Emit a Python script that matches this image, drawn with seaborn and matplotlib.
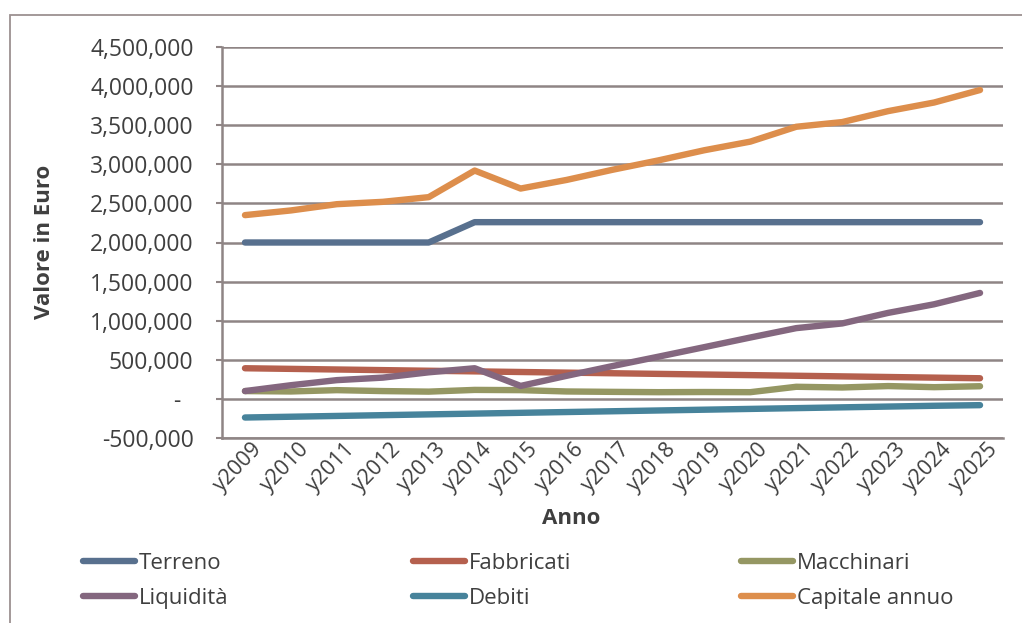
import matplotlib
matplotlib.use("Agg")
import matplotlib.pyplot as plt
import matplotlib.ticker as mticker
import matplotlib.transforms as mtransforms
from matplotlib.patches import Rectangle
import numpy as np
import pandas as pd
import seaborn as sns

# ---- data -------------------------------------------------------------
years = ["y2009", "y2010", "y2011", "y2012", "y2013", "y2014", "y2015", "y2016",
         "y2017", "y2018", "y2019", "y2020", "y2021", "y2022", "y2023", "y2024", "y2025"]

terreno = [2000000, 2000000, 2000000, 2000000, 2000000, 2260000, 2260000, 2260000,
           2260000, 2260000, 2260000, 2260000, 2260000, 2260000, 2260000, 2260000, 2260000]
fabbricati = [392000, 384000, 376000, 368000, 360000, 352000, 344000, 336000,
              328000, 320000, 312000, 304000, 296000, 288000, 280000, 272000, 264000]
macchinari = [100000, 95000, 112000, 100000, 93000, 115000, 112000, 95000,
              90000, 86000, 88000, 86000, 155000, 146000, 164000, 150000, 162000]
liquidita = [100000, 175000, 240000, 272000, 340000, 392000, 166000, 295000,
             420000, 540000, 662000, 785000, 905000, 965000, 1100000, 1210000, 1355000]
debiti = [-238000, -228000, -218000, -208000, -198000, -188000, -178000, -168000,
          -158000, -148000, -138000, -128000, -118000, -108000, -98000, -88000, -80000]
capitale = [2350000, 2410000, 2490000, 2520000, 2580000, 2920000, 2690000, 2800000,
            2930000, 3050000, 3180000, 3290000, 3480000, 3540000, 3680000, 3790000, 3950000]

series_names = ["Terreno", "Fabbricati", "Macchinari", "Liquidità", "Debiti", "Capitale annuo"]
series_values = [terreno, fabbricati, macchinari, liquidita, debiti, capitale]
series_colors = ["#58708E", "#B5604E", "#959763", "#84677F", "#47839B", "#DD8E4C"]

# ---- long-form table ----------------------------------------------------
x_pos = np.arange(len(years))
frames = []
for name, vals in zip(series_names, series_values):
    frames.append(pd.DataFrame({"pos": x_pos, "anno": years, "valore": vals, "serie": name}))
df = pd.concat(frames, ignore_index=True)

# ---- styling -----------------------------------------------------------
sns.set_theme(style="white")
plt.rcParams["font.family"] = ["Open Sans", "DejaVu Sans"]
text_color = "#3F3F3F"
grid_color = "#8F8585"
line_w = 4.6

fig = plt.figure(figsize=(10.22, 6.23), dpi=100)
ax = fig.add_axes([222 / 1022, 1 - 438 / 623, (1003 - 222) / 1022, (438 - 47) / 623])

sns.lineplot(data=df, x="pos", y="valore", hue="serie", hue_order=series_names,
             palette=dict(zip(series_names, series_colors)), linewidth=line_w,
             solid_capstyle="round", ax=ax, legend=False, zorder=3)

ax.set_xlim(-0.5, len(years) - 0.5)
ax.set_ylim(-500000, 4500000)
ax.yaxis.set_major_locator(mticker.MultipleLocator(500000))


def euro_fmt(v, _):
    if abs(v) < 1:
        return "-  "
    return f"{v:,.0f}"


ax.yaxis.set_major_formatter(mticker.FuncFormatter(euro_fmt))
ax.set_xticks(x_pos)
ax.set_xticklabels(years)

ax.grid(axis="y", color=grid_color, linewidth=1.8, zorder=0)
ax.grid(axis="x", visible=False)
for side in ["top", "right"]:
    ax.spines[side].set_visible(False)
for side in ["left", "bottom"]:
    ax.spines[side].set_color(grid_color)
    ax.spines[side].set_linewidth(1.8)

ax.tick_params(axis="y", which="major", left=True, length=4.5, width=1.5,
               color=grid_color, pad=16, labelsize=16.5, labelcolor=text_color)
ax.tick_params(axis="x", which="major", bottom=False, pad=0,
               labelsize=15.5, labelcolor=text_color)
shift = mtransforms.ScaledTranslation(7 / 100, 8 / 100, fig.dpi_scale_trans)
for lab in ax.get_xticklabels():
    lab.set_rotation(46)
    lab.set_ha("right")
    lab.set_va("top")
    lab.set_rotation_mode("anchor")
    lab.set_transform(lab.get_transform() + shift)

ax.set_xlabel("")
ax.set_ylabel("")
fig.text(45 / 1022, 1 - 242 / 623, "Valore in Euro", rotation=90, ha="center", va="center",
         fontsize=16, fontweight="bold", color=text_color)
fig.text(571 / 1022, 1 - 519 / 623, "Anno", ha="center", va="center",
         fontsize=16, fontweight="bold", color=text_color)

# ---- legend: three columns, filled row by row ---------------------------
col_x = [83, 413, 741]
for c in range(3):
    idx = [c, c + 3]
    handles = [plt.Line2D([0], [0], color=series_colors[i], linewidth=line_w,
                          solid_capstyle="round") for i in idx]
    labels = [series_names[i] for i in idx]
    leg = fig.legend(handles, labels, loc="center left",
                     bbox_to_anchor=(col_x[c] / 1022, 1 - 581 / 623), frameon=False,
                     fontsize=16, handlelength=2.35, handletextpad=0.15,
                     labelspacing=0.62, borderpad=0, borderaxespad=0)
    for t in leg.get_texts():
        t.set_color(text_color)

# ---- chart frame -------------------------------------------------------
fig.patches.append(Rectangle((10 / 1022, -0.1), 1.2, 1 - 15 / 623 + 0.1,
                             transform=fig.transFigure, fill=False,
                             edgecolor="#9C9191", linewidth=1.3))

fig.savefig("out.png", dpi=100, facecolor="white")
